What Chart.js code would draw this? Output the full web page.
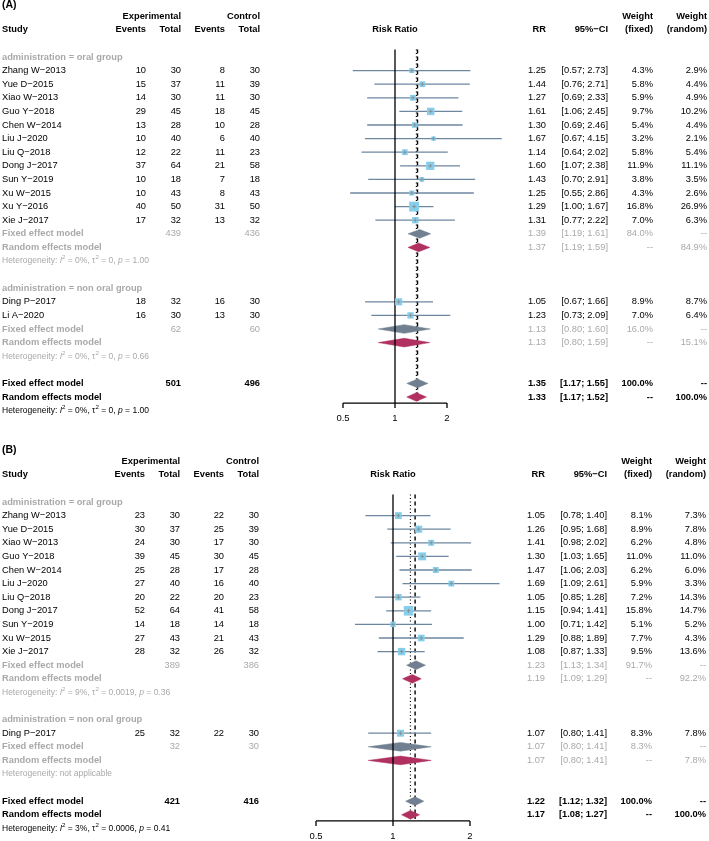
<!DOCTYPE html>
<html>
<head>
<meta charset="utf-8">
<title>Forest plots (A) and (B)</title>
<script src="https://cdn.jsdelivr.net/npm/chart.js@4.4.1/dist/chart.umd.min.js"></script>
<style>
    html, body { margin: 0; padding: 0; background: #ffffff; }
    canvas { display: block; }
</style>
</head>
<body>
<canvas id="chartA" width="709" height="426"></canvas>
<canvas id="chartB" width="709" height="415"></canvas>
<script>
// Subgroups, in plotting order
const groupNames = ['administration = oral group', 'administration = non oral group'];
const axisTicks = [0.5, 1, 2];

// ---- Panel A: per-study data ----
const studiesA = ['Zhang W\u22122013', 'Yue D\u22122015', 'Xiao W\u22122013', 'Guo Y\u22122018', 'Chen W\u22122014',
    'Liu J\u22122020', 'Liu Q\u22122018', 'Dong J\u22122017', 'Sun Y\u22122019', 'Xu W\u22122015', 'Xu Y\u22122016',
    'Xie J\u22122017', 'Ding P\u22122017', 'Li A\u22122020'];
const groupOfA = [0, 0, 0, 0, 0, 0, 0, 0, 0, 0, 0, 0, 1, 1];
const expEventsA = [10, 15, 14, 29, 13, 10, 12, 37, 10, 10, 40, 17, 18, 16];
const expTotalA = [30, 37, 30, 45, 28, 40, 22, 64, 18, 43, 50, 32, 32, 30];
const ctrlEventsA = [8, 11, 11, 18, 10, 6, 11, 21, 7, 8, 31, 13, 16, 13];
const ctrlTotalA = [30, 39, 30, 45, 28, 40, 23, 58, 18, 43, 50, 32, 30, 30];
const rrA = [1.25, 1.44, 1.27, 1.61, 1.30, 1.67, 1.14, 1.60, 1.43, 1.25, 1.29, 1.31, 1.05, 1.23];
const ciLowA = [0.57, 0.76, 0.69, 1.06, 0.69, 0.67, 0.64, 1.07, 0.70, 0.55, 1.00, 0.77, 0.67, 0.73];
const ciHighA = [2.73, 2.71, 2.33, 2.45, 2.46, 4.15, 2.02, 2.38, 2.91, 2.86, 1.67, 2.22, 1.66, 2.09];
const weightFixedA = [4.3, 5.8, 5.9, 9.7, 5.4, 3.2, 5.8, 11.9, 3.8, 4.3, 16.8, 7.0, 8.9, 7.0];
const weightRandomA = [2.9, 4.4, 4.9, 10.2, 4.4, 2.1, 5.4, 11.1, 3.5, 2.6, 26.9, 6.3, 8.7, 6.4];

// Panel A summaries: [oral, non oral, overall]
const sumExpTotalA = [439, 62, 501];
const sumCtrlTotalA = [436, 60, 496];
const fixedRrA = [1.39, 1.13, 1.35];
const fixedLowA = [1.19, 0.80, 1.17];
const fixedHighA = [1.61, 1.60, 1.55];
const fixedWeightA = [84.0, 16.0, 100.0];
const randomRrA = [1.37, 1.13, 1.33];
const randomLowA = [1.19, 0.80, 1.17];
const randomHighA = [1.59, 1.59, 1.52];
const randomWeightA = [84.9, 15.1, 100.0];
const hetI2A = ['0%', '0%', '0%'];
const hetTau2A = ['0', '0', '0'];
const hetPA = ['1.00', '0.66', '1.00'];

// ---- Panel B: per-study data ----
const studiesB = ['Zhang W\u22122013', 'Yue D\u22122015', 'Xiao W\u22122013', 'Guo Y\u22122018', 'Chen W\u22122014',
    'Liu J\u22122020', 'Liu Q\u22122018', 'Dong J\u22122017', 'Sun Y\u22122019', 'Xu W\u22122015', 'Xie J\u22122017',
    'Ding P\u22122017'];
const groupOfB = [0, 0, 0, 0, 0, 0, 0, 0, 0, 0, 0, 1];
const expEventsB = [23, 30, 24, 39, 25, 27, 20, 52, 14, 27, 28, 25];
const expTotalB = [30, 37, 30, 45, 28, 40, 22, 64, 18, 43, 32, 32];
const ctrlEventsB = [22, 25, 17, 30, 17, 16, 20, 41, 14, 21, 26, 22];
const ctrlTotalB = [30, 39, 30, 45, 28, 40, 23, 58, 18, 43, 32, 30];
const rrB = [1.05, 1.26, 1.41, 1.30, 1.47, 1.69, 1.05, 1.15, 1.00, 1.29, 1.08, 1.07];
const ciLowB = [0.78, 0.95, 0.98, 1.03, 1.06, 1.09, 0.85, 0.94, 0.71, 0.88, 0.87, 0.80];
const ciHighB = [1.40, 1.68, 2.02, 1.65, 2.03, 2.61, 1.28, 1.41, 1.42, 1.89, 1.33, 1.41];
const weightFixedB = [8.1, 8.9, 6.2, 11.0, 6.2, 5.9, 7.2, 15.8, 5.1, 7.7, 9.5, 8.3];
const weightRandomB = [7.3, 7.8, 4.8, 11.0, 6.0, 3.3, 14.3, 14.7, 5.2, 4.3, 13.6, 7.8];

// Panel B summaries: [oral, non oral, overall]
const sumExpTotalB = [389, 32, 421];
const sumCtrlTotalB = [386, 30, 416];
const fixedRrB = [1.23, 1.07, 1.22];
const fixedLowB = [1.13, 0.80, 1.12];
const fixedHighB = [1.34, 1.41, 1.32];
const fixedWeightB = [91.7, 8.3, 100.0];
const randomRrB = [1.19, 1.07, 1.17];
const randomLowB = [1.09, 0.80, 1.08];
const randomHighB = [1.29, 1.41, 1.27];
const randomWeightB = [92.2, 7.8, 100.0];
const hetI2B = ['9%', null, '3%'];
const hetTau2B = ['0.0019', null, '0.0006'];
const hetPB = ['0.36', null, '0.41'];

// Styling
const FONT = '"Liberation Sans", Arial, Helvetica, sans-serif';
const FS = 9.3;
const HS = 8.5;
const ROW = 13.6;
const GREY = '#a9a9a9';
const SQUARE = '#87CEEB';
const CI_LINE = '#6E87A0';
const FIXED_DIAMOND = '#708090';
const RANDOM_DIAMOND = '#B03060';

const panelA = {
    canvas: 'chartA', tag: '(A)', row0: 57, x1: 395, perDoubling: 52, xMin: 0.25, xMax: 8, shift: 0,
    studies: studiesA, groupOf: groupOfA, expEvents: expEventsA, expTotal: expTotalA,
    ctrlEvents: ctrlEventsA, ctrlTotal: ctrlTotalA, rr: rrA, ciLow: ciLowA, ciHigh: ciHighA,
    weightFixed: weightFixedA, weightRandom: weightRandomA,
    sumExpTotal: sumExpTotalA, sumCtrlTotal: sumCtrlTotalA,
    fixedRr: fixedRrA, fixedLow: fixedLowA, fixedHigh: fixedHighA, fixedWeight: fixedWeightA,
    randomRr: randomRrA, randomLow: randomLowA, randomHigh: randomHighA, randomWeight: randomWeightA,
    hetI2: hetI2A, hetTau2: hetTau2A, hetP: hetPA
};

// canvas B starts 426px down the page, so its first row sits at 502 - 426
const panelB = {
    canvas: 'chartB', tag: '(B)', row0: 76, x1: 393, perDoubling: 77, xMin: 0.25, xMax: 4, shift: -1,
    studies: studiesB, groupOf: groupOfB, expEvents: expEventsB, expTotal: expTotalB,
    ctrlEvents: ctrlEventsB, ctrlTotal: ctrlTotalB, rr: rrB, ciLow: ciLowB, ciHigh: ciHighB,
    weightFixed: weightFixedB, weightRandom: weightRandomB,
    sumExpTotal: sumExpTotalB, sumCtrlTotal: sumCtrlTotalB,
    fixedRr: fixedRrB, fixedLow: fixedLowB, fixedHigh: fixedHighB, fixedWeight: fixedWeightB,
    randomRr: randomRrB, randomLow: randomLowB, randomHigh: randomHighB, randomWeight: randomWeightB,
    hetI2: hetI2B, hetTau2: hetTau2B, hetP: hetPB
};

// Assign a row index to every line of the plot
function layoutRows(p) {
    const rows = [];
    let k = 0;
    groupNames.forEach((g, gi) => {
        const idx = p.studies.map((s, i) => i).filter(i => p.groupOf[i] === gi);
        if (!idx.length) return;
        rows.push({ k: k++, kind: 'group', label: g });
        idx.forEach(i => rows.push({ k: k++, kind: 'study', i: i }));
        rows.push({ k: k++, kind: 'fixed', s: gi });
        rows.push({ k: k++, kind: 'random', s: gi });
        rows.push({ k: k++, kind: 'het', s: gi });
        k++; // blank line between groups
    });
    rows.push({ k: k++, kind: 'fixed', s: 2, overall: true });
    rows.push({ k: k++, kind: 'random', s: 2, overall: true });
    rows.push({ k: k++, kind: 'het', s: 2, overall: true });
    return rows;
}

function put(ctx, text, x, y, align, opts) {
    opts = opts || {};
    ctx.font = (opts.bold ? 'bold ' : '') + (opts.size || FS) + 'px ' + FONT;
    ctx.fillStyle = opts.color || '#000';
    ctx.textAlign = align;
    ctx.textBaseline = 'middle';
    ctx.fillText(text, x, y);
}

function drawHet(ctx, x, y, i2, tau2, pval, color) {
    const runs = i2 === null
        ? [['Heterogeneity: not applicable', '']]
        : [['Heterogeneity: ', ''], ['I', 'italic'], ['2', 'sup'], [' = ' + i2 + ', ', ''],
           ['\u03c4', ''], ['2', 'sup'], [' = ' + tau2 + ', ', ''], ['p', 'italic'], [' = ' + pval, '']];
    let cx = x;
    runs.forEach(([t, style]) => {
        const size = style === 'sup' ? HS * 0.72 : HS;
        ctx.font = (style === 'italic' ? 'italic ' : '') + size + 'px ' + FONT;
        ctx.fillStyle = color;
        ctx.textAlign = 'left';
        ctx.textBaseline = 'middle';
        ctx.fillText(t, cx, style === 'sup' ? y - HS * 0.38 : y);
        cx += ctx.measureText(t).width;
    });
}

const fmtCi = (lo, hi) => '[' + lo.toFixed(2) + '; ' + hi.toFixed(2) + ']';
const fmtW = w => w.toFixed(1) + '%';

// Text columns and the risk ratio axis
function textPlugin(p, rows, axisK) {
    const c = {
        expE: 146 + p.shift, expT: 181 + p.shift, ctlE: 225 + p.shift, ctlT: 260 + p.shift,
        rr: 546 + p.shift, ci: 608 + p.shift, wf: 653 + p.shift, wr: 707 + p.shift
    };
    return {
        id: 'forestText',
        afterDraw(chart) {
            const ctx = chart.ctx;
            const Y = k => chart.scales.y.getPixelForValue(k);
            const X = v => chart.scales.x.getPixelForValue(v);
            const B = { bold: true };
            ctx.save();

            // header
            put(ctx, p.tag, 2, Y(-3.85), 'left', { bold: true, size: 10.5 });
            put(ctx, 'Experimental', c.expT, Y(-2.98), 'right', B);
            put(ctx, 'Control', c.ctlT, Y(-2.98), 'right', B);
            put(ctx, 'Weight', c.wf, Y(-2.98), 'right', B);
            put(ctx, 'Weight', c.wr, Y(-2.98), 'right', B);
            const hy = Y(-2.03);
            put(ctx, 'Study', 2, hy, 'left', B);
            put(ctx, 'Events', c.expE, hy, 'right', B);
            put(ctx, 'Total', c.expT, hy, 'right', B);
            put(ctx, 'Events', c.ctlE, hy, 'right', B);
            put(ctx, 'Total', c.ctlT, hy, 'right', B);
            put(ctx, 'Risk Ratio', X(1), hy, 'center', B);
            put(ctx, 'RR', c.rr, hy, 'right', B);
            put(ctx, '95%\u2212CI', c.ci, hy, 'right', B);
            put(ctx, '(fixed)', c.wf, hy, 'right', B);
            put(ctx, '(random)', c.wr, hy, 'right', B);

            rows.forEach(r => {
                const y = Y(r.k);
                if (r.kind === 'group') {
                    put(ctx, r.label, 2, y, 'left', { bold: true, color: GREY });
                } else if (r.kind === 'study') {
                    const i = r.i;
                    put(ctx, p.studies[i], 2, y, 'left');
                    put(ctx, String(p.expEvents[i]), c.expE, y, 'right');
                    put(ctx, String(p.expTotal[i]), c.expT, y, 'right');
                    put(ctx, String(p.ctrlEvents[i]), c.ctlE, y, 'right');
                    put(ctx, String(p.ctrlTotal[i]), c.ctlT, y, 'right');
                    put(ctx, p.rr[i].toFixed(2), c.rr, y, 'right');
                    put(ctx, fmtCi(p.ciLow[i], p.ciHigh[i]), c.ci, y, 'right');
                    put(ctx, fmtW(p.weightFixed[i]), c.wf, y, 'right');
                    put(ctx, fmtW(p.weightRandom[i]), c.wr, y, 'right');
                } else if (r.kind === 'fixed' || r.kind === 'random') {
                    const s = r.s;
                    const o = r.overall ? { bold: true } : { color: GREY };
                    const lab = r.overall ? { bold: true } : { bold: true, color: GREY };
                    if (r.kind === 'fixed') {
                        put(ctx, 'Fixed effect model', 2, y, 'left', lab);
                        put(ctx, String(p.sumExpTotal[s]), c.expT, y, 'right', o);
                        put(ctx, String(p.sumCtrlTotal[s]), c.ctlT, y, 'right', o);
                        put(ctx, p.fixedRr[s].toFixed(2), c.rr, y, 'right', o);
                        put(ctx, fmtCi(p.fixedLow[s], p.fixedHigh[s]), c.ci, y, 'right', o);
                        put(ctx, fmtW(p.fixedWeight[s]), c.wf, y, 'right', o);
                        put(ctx, '--', c.wr, y, 'right', o);
                    } else {
                        put(ctx, 'Random effects model', 2, y, 'left', lab);
                        put(ctx, p.randomRr[s].toFixed(2), c.rr, y, 'right', o);
                        put(ctx, fmtCi(p.randomLow[s], p.randomHigh[s]), c.ci, y, 'right', o);
                        put(ctx, '--', c.wf, y, 'right', o);
                        put(ctx, fmtW(p.randomWeight[s]), c.wr, y, 'right', o);
                    }
                } else if (r.kind === 'het') {
                    drawHet(ctx, 2, y, p.hetI2[r.s], p.hetTau2[r.s], p.hetP[r.s], r.overall ? '#000' : GREY);
                }
            });

            // x axis with ticks at 0.5, 1, 2
            const ay = Y(axisK);
            ctx.strokeStyle = '#000';
            ctx.lineWidth = 1.3;
            ctx.beginPath();
            ctx.moveTo(X(axisTicks[0]), ay);
            ctx.lineTo(X(axisTicks[axisTicks.length - 1]), ay);
            axisTicks.forEach(t => {
                ctx.moveTo(X(t), ay);
                ctx.lineTo(X(t), ay + 5);
            });
            ctx.stroke();
            axisTicks.forEach(t => put(ctx, String(t), X(t), ay + 15, 'center', { size: 9.5 }));

            ctx.restore();
        }
    };
}

function buildPanel(p) {
    const rows = layoutRows(p);
    const lastK = rows[rows.length - 1].k;
    const overallRandomK = lastK - 1;
    const axisK = overallRandomK + 0.45;
    const yMin = -4;
    const yMax = lastK + 0.6;

    const canvas = document.getElementById(p.canvas);
    const W = canvas.width;
    const H = canvas.height;

    const datasets = [];
    const studyRows = rows.filter(r => r.kind === 'study');

    // confidence interval lines
    studyRows.forEach(r => datasets.push({
        data: [{ x: p.ciLow[r.i], y: r.k }, { x: p.ciHigh[r.i], y: r.k }],
        borderColor: CI_LINE, borderWidth: 1.3, order: 4
    }));

    // squares sized by fixed-effect weight
    const pts = studyRows.map(r => ({ x: p.rr[r.i], y: r.k }));
    datasets.push({
        data: pts, showLine: false, pointStyle: 'rect',
        pointRadius: studyRows.map(r => 2.4 * Math.sqrt(p.weightFixed[r.i]) / Math.SQRT2),
        pointBackgroundColor: SQUARE, pointBorderWidth: 0, order: 1
    });
    datasets.push({
        data: pts, showLine: false, pointStyle: 'cross', pointRadius: 2,
        pointBorderColor: '#888888', pointBorderWidth: 0.8, order: 0
    });

    // summary diamonds
    rows.filter(r => r.kind === 'fixed' || r.kind === 'random').forEach(r => {
        const fixed = r.kind === 'fixed';
        const est = fixed ? p.fixedRr[r.s] : p.randomRr[r.s];
        const lo = fixed ? p.fixedLow[r.s] : p.randomLow[r.s];
        const hi = fixed ? p.fixedHigh[r.s] : p.randomHigh[r.s];
        const col = fixed ? FIXED_DIAMOND : RANDOM_DIAMOND;
        const h = 0.32;
        datasets.push({
            data: [{ x: lo, y: r.k }, { x: est, y: r.k - h }, { x: hi, y: r.k }, { x: est, y: r.k + h }, { x: lo, y: r.k }],
            fill: 'shape', backgroundColor: col, borderColor: col, borderWidth: 0.5, order: 3
        });
    });

    // reference lines: no effect, overall fixed, overall random
    const topK = -0.55;
    datasets.push({
        data: [{ x: 1, y: topK }, { x: 1, y: axisK }],
        borderColor: '#000', borderWidth: 1.3, order: 2
    });
    datasets.push({
        data: [{ x: p.fixedRr[2], y: topK }, { x: p.fixedRr[2], y: overallRandomK + 0.3 }],
        borderColor: '#000', borderWidth: 1.4, borderDash: [4, 3], order: 5
    });
    datasets.push({
        data: [{ x: p.randomRr[2], y: topK }, { x: p.randomRr[2], y: overallRandomK + 0.3 }],
        borderColor: '#000', borderWidth: 1.2, borderDash: [1, 2.5], order: 5
    });

    return new Chart(canvas, {
        type: 'line',
        data: { datasets: datasets },
        options: {
            responsive: false,
            animation: false,
            events: [],
            clip: false,
            layout: {
                autoPadding: false,
                padding: {
                    top: p.row0 + yMin * ROW,
                    bottom: H - (p.row0 + yMax * ROW),
                    left: p.x1 + Math.log2(p.xMin) * p.perDoubling,
                    right: W - (p.x1 + Math.log2(p.xMax) * p.perDoubling)
                }
            },
            elements: {
                point: { radius: 0, hoverRadius: 0 },
                line: { tension: 0, fill: false }
            },
            plugins: {
                legend: { display: false },
                tooltip: { enabled: false }
            },
            scales: {
                x: { type: 'logarithmic', min: p.xMin, max: p.xMax, bounds: 'data', display: false },
                y: { type: 'linear', min: yMin, max: yMax, reverse: true, bounds: 'data', display: false }
            }
        },
        plugins: [textPlugin(p, rows, axisK)]
    });
}

buildPanel(panelA);
buildPanel(panelB);
</script>
</body>
</html>
